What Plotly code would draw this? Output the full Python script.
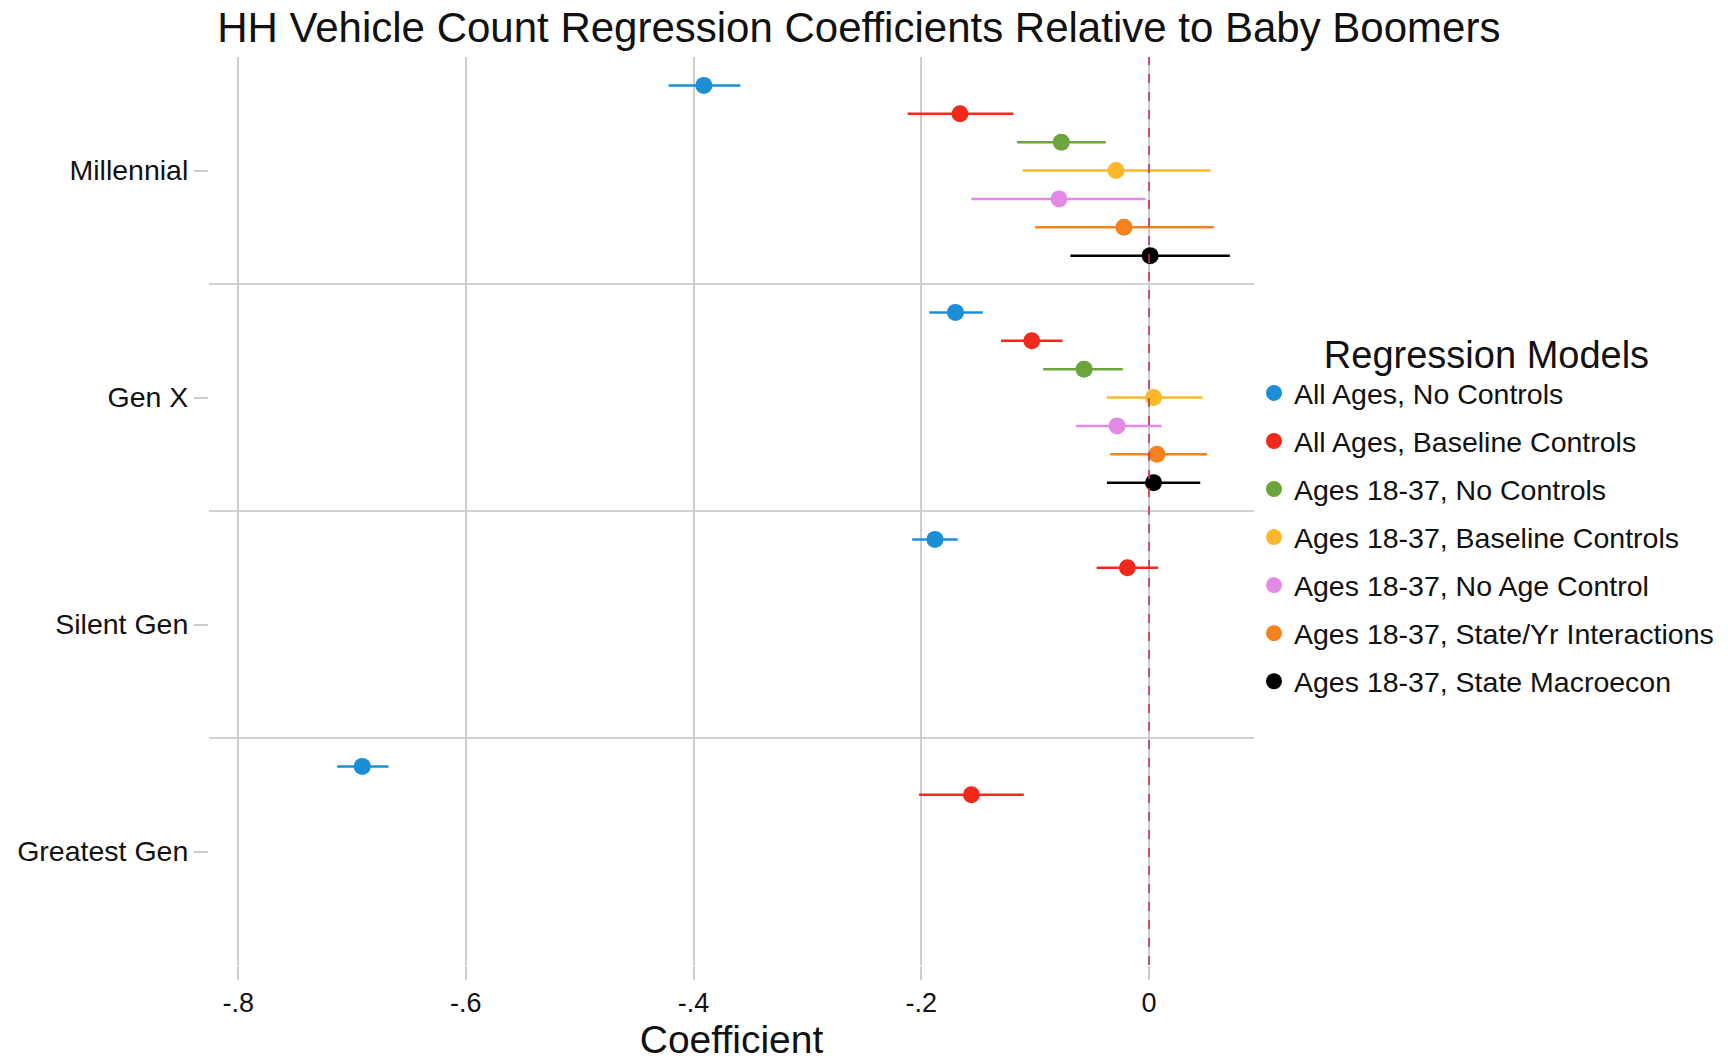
import plotly.graph_objects as go

# ---------------- data ----------------
generations = ["Millennial", "Gen X", "Silent Gen", "Greatest Gen"]

models = [
    "All Ages, No Controls",
    "All Ages, Baseline Controls",
    "Ages 18-37, No Controls",
    "Ages 18-37, Baseline Controls",
    "Ages 18-37, No Age Control",
    "Ages 18-37, State/Yr Interactions",
    "Ages 18-37, State Macroecon",
]

colors = ["#1b8fd5", "#f1291d", "#6da43c", "#fbb82a", "#e38ae6", "#f6811f", "#000000"]

# coefficient estimates per model, ordered as generations (None = not estimated)
coef_all_no   = [-0.391, -0.170, -0.188, -0.691]
coef_all_base = [-0.166, -0.103, -0.019, -0.156]
coef_y_no     = [-0.077, -0.057, None, None]
coef_y_base   = [-0.029, 0.004, None, None]
coef_y_noage  = [-0.079, -0.028, None, None]
coef_y_styr   = [-0.022, 0.007, None, None]
coef_y_macro  = [0.001, 0.004, None, None]

lo_all_no   = [-0.422, -0.193, -0.208, -0.713]
lo_all_base = [-0.212, -0.130, -0.046, -0.202]
lo_y_no     = [-0.116, -0.093, None, None]
lo_y_base   = [-0.111, -0.037, None, None]
lo_y_noage  = [-0.156, -0.064, None, None]
lo_y_styr   = [-0.100, -0.034, None, None]
lo_y_macro  = [-0.069, -0.037, None, None]

hi_all_no   = [-0.359, -0.146, -0.168, -0.668]
hi_all_base = [-0.119, -0.076, 0.008, -0.110]
hi_y_no     = [-0.038, -0.023, None, None]
hi_y_base   = [0.054, 0.047, None, None]
hi_y_noage  = [-0.003, 0.011, None, None]
hi_y_styr   = [0.057, 0.051, None, None]
hi_y_macro  = [0.071, 0.045, None, None]

coefs = [coef_all_no, coef_all_base, coef_y_no, coef_y_base, coef_y_noage, coef_y_styr, coef_y_macro]
lows = [lo_all_no, lo_all_base, lo_y_no, lo_y_base, lo_y_noage, lo_y_styr, lo_y_macro]
highs = [hi_all_no, hi_all_base, hi_y_no, hi_y_base, hi_y_noage, hi_y_styr, hi_y_macro]

x_tickvals = [-0.8, -0.6, -0.4, -0.2, 0]
x_ticktext = ["-.8", "-.6", "-.4", "-.2", "0"]

title_text = "HH Vehicle Count Regression Coefficients Relative to Baby Boomers"
x_title = "Coefficient"
legend_title = "Regression Models"

# ---------------- figure ----------------
FONT = "Liberation Sans, Arial, Helvetica, sans-serif"
n_models = len(models)
fig = go.Figure()

for j, name in enumerate(models):
    xs, ys, plus, minus = [], [], [], []
    for i, g in enumerate(generations):
        c = coefs[j][i]
        if c is None:
            continue
        xs.append(c)
        ys.append(i + (j - (n_models - 1) / 2) / (n_models + 1))
        plus.append(highs[j][i] - c)
        minus.append(c - lows[j][i])
    fig.add_trace(go.Scatter(
        x=xs, y=ys, mode="markers", name=name, legendgroup=name,
        marker=dict(color=colors[j], size=17, line=dict(width=0)),
        error_x=dict(type="data", symmetric=False, array=plus, arrayminus=minus,
                     color=colors[j], thickness=2.5, width=0),
    ))

# horizontal separators between generation groups
shapes = []
for k in range(1, len(generations)):
    shapes.append(dict(type="line", xref="paper", x0=0, x1=1, yref="y",
                       y0=k - 0.5, y1=k - 0.5, layer="below",
                       line=dict(color="#d2d2d2", width=2)))
# reference line at zero
shapes.append(dict(type="line", xref="x", x0=0, x1=0, yref="paper", y0=0, y1=1,
                   line=dict(color="#c4334e", width=1.6, dash="dash")))

fig.update_layout(
    width=1728, height=1061,
    paper_bgcolor="white", plot_bgcolor="white",
    margin=dict(l=209, r=474, t=57, b=96, autoexpand=False),
    font=dict(family=FONT, color="#111111"),
    title=dict(text=title_text, x=0.497, xanchor="center", y=0.974, yanchor="middle",
               font=dict(size=42, family=FONT, color="#111111")),
    shapes=shapes,
    showlegend=True,
    legend=dict(
        title=dict(text=legend_title, side="top center", font=dict(size=38, family=FONT)),
        x=1.0, xanchor="left", y=0.712, yanchor="top",
        font=dict(size=28.5, family=FONT, color="#111111"),
        traceorder="grouped", tracegroupgap=8, itemsizing="trace",
        bgcolor="rgba(0,0,0,0)",
    ),
    xaxis=dict(
        range=[-0.8256, 0.0922], tickvals=x_tickvals, ticktext=x_ticktext,
        showgrid=True, gridcolor="#cccccc", gridwidth=1.5, zeroline=False,
        showline=False, ticks="outside", ticklen=14, tickcolor="#cccccc", tickwidth=1.5,
        automargin=False,
        tickfont=dict(size=27, family=FONT, color="#111111"),
        title=dict(text=x_title, font=dict(size=39, family=FONT, color="#111111"), standoff=11),
    ),
    yaxis=dict(
        range=[len(generations) - 0.5, -0.5],
        tickvals=list(range(len(generations))), ticktext=generations,
        showgrid=False, zeroline=False, showline=False,
        ticks="outside", ticklen=14, tickcolor="#cccccc", tickwidth=1.5,
        automargin=False,
        tickfont=dict(size=28.5, family=FONT, color="#111111"),
    ),
)

fig.write_html("out.html")
